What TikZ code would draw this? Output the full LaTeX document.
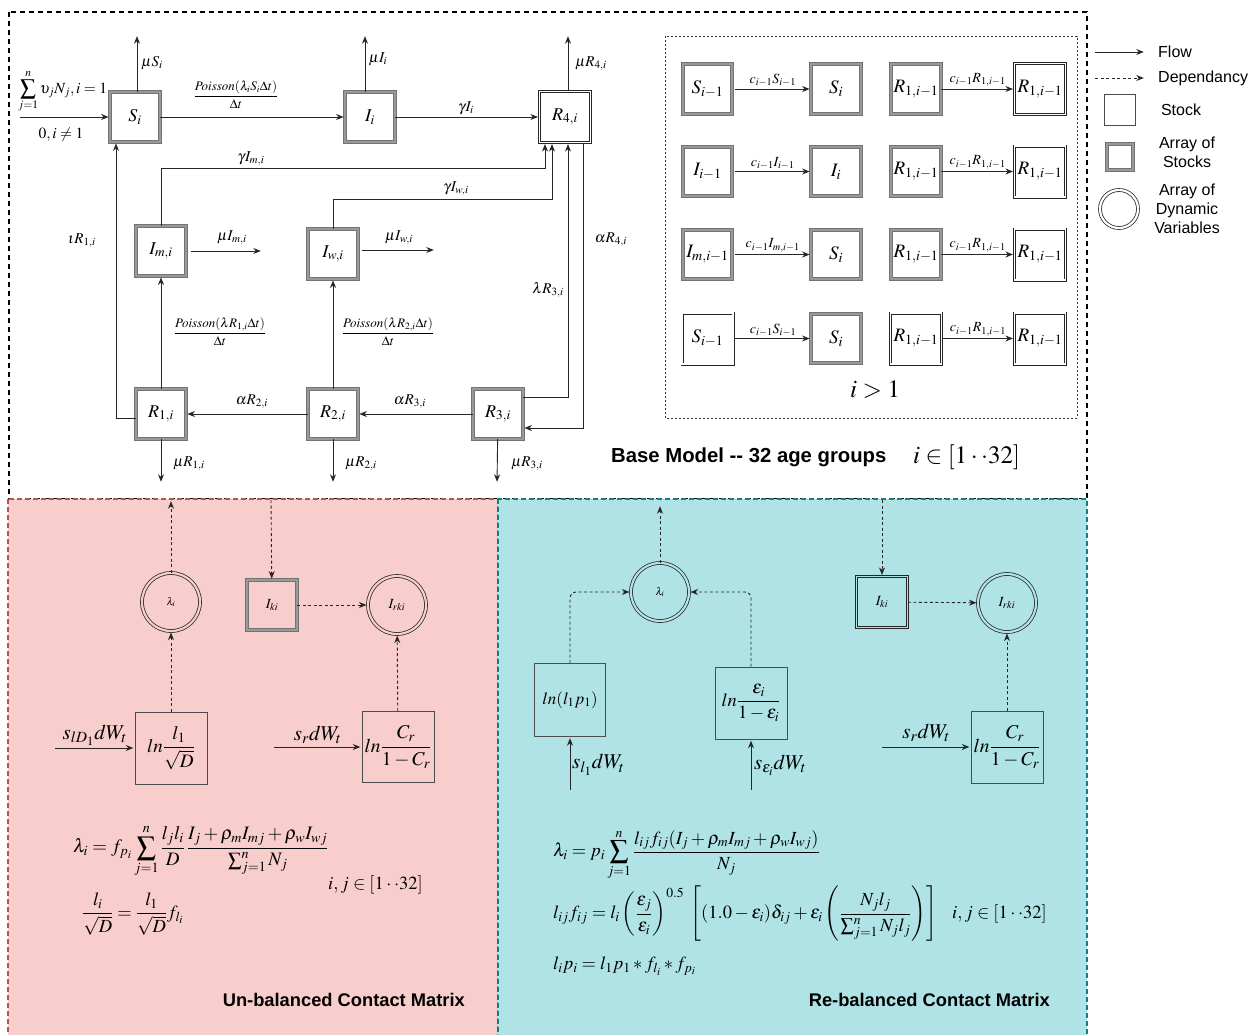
\documentclass[tikz,border=0pt]{standalone}
\usepackage{amsmath}
\usepackage{mathptmx}
\usepackage{fontspec}
\setmainfont{Liberation Serif}
\setsansfont{Liberation Sans}
\usetikzlibrary{arrows.meta}
\definecolor{pinkbg}{HTML}{F8CECC}
\definecolor{pinkbd}{HTML}{B85450}
\definecolor{cyanbg}{HTML}{B0E3E6}
\definecolor{cyanbd}{HTML}{0E8088}
\newcommand{\setfs}[1]{\fontsize{#1}{#1}\selectfont}
\begin{document}
\begin{tikzpicture}[x=1pt,y=-1pt,
 flow/.style={-{Stealth[length=7.5pt,width=6pt]}, line width=0.9pt, draw=black!85, shorten >=1.2pt},
 dep/.style={flow, dash pattern=on 3pt off 2.5pt},
 arrbox/.style={draw=black!55, line width=0.9pt, double=black!40, double distance=2.4pt, minimum size=49.5pt, inner sep=0pt, font=\setfs{18}},
 dblbox/.style={draw=black!85, line width=0.75pt, double=#1, double distance=1.5pt, minimum size=51pt, inner sep=0pt, font=\setfs{18}},
 dblbox/.default=white,
 stockbox/.style={draw=black!70, line width=1pt, minimum width=72pt, minimum height=72pt, inner sep=0pt, font=\setfs{19.5}},
 dynvar/.style={circle, draw=black!85, line width=0.75pt, double=#1, double distance=2.2pt, minimum size=58pt, inner sep=0pt},
 dynvar/.default=white,
 lab/.style={font=\setfs{15}, inner sep=1pt},
 plab/.style={font=\setfs{13}, inner sep=1pt},
 glab/.style={font=\setfs{14}, inner sep=2pt},
 gbox/.style={font=\setfs{19}},
 sflab/.style={font=\sffamily\setfs{16}, inner sep=0pt},
 title/.style={font=\sffamily\bfseries\setfs{20.3}, inner sep=0pt},
 ptitle/.style={font=\sffamily\bfseries\setfs{18.3}, inner sep=0pt},
 frm/.style={font=\setfs{18.5}, inner sep=0pt},
 dwl/.style={font=\setfs{21}},
]
\useasboundingbox (0,0) rectangle (1253,1034);
% outer boxes
\draw[line width=1.8pt, dash pattern=on 5pt off 4pt] (9,12) rectangle (1087,499);
\draw[line width=0.8pt, black!80, dash pattern=on 2pt off 2pt] (665,36) rectangle (1077,418);
\draw[pinkbd, fill=pinkbg, line width=1.3pt, dash pattern=on 5pt off 3pt] (8,499) rectangle (498,1040);
\draw[cyanbd, fill=cyanbg, line width=1.3pt, dash pattern=on 5pt off 3pt] (498,499) rectangle (1087,1040);

% ===== base model =====
\node[arrbox] (S) at (135,117) {$S_i$};
\node[arrbox] (I) at (370,117) {$I_i$};
\node[dblbox] (R4) at (565,117) {$R_{4,i}$};
\node[arrbox] (Im) at (161,251) {$I_{m,i}$};
\node[arrbox] (Iw) at (333,254) {$I_{w,i}$};
\node[arrbox] (R1) at (161,414) {$R_{1,i}$};
\node[arrbox] (R2) at (333,414) {$R_{2,i}$};
\node[arrbox] (R3) at (498,414) {$R_{3,i}$};

\coordinate (Sin) at (20,117);
\coordinate (Sout) at (137,35);
\coordinate (Iout) at (365,35);
\coordinate (Rout) at (568,35);
\coordinate (Imout) at (262,251);
\coordinate (Iwout) at (435,250);
\coordinate (R1o) at (161,483);
\coordinate (R2o) at (333,483);
\coordinate (R3o) at (497,483);
\coordinate (yIm) at (0,168);
\coordinate (yIw) at (0,199);

\draw[flow] (Sin) -- (S.west);
\draw[flow] (S.north -| Sout) -- (Sout);
\draw[flow] (S) -- (I);
\draw[flow] (I.north -| Iout) -- (Iout);
\draw[flow] (I) -- (R4);
\draw[flow] (R4.north -| Rout) -- (Rout);
\draw[flow] (Im.north) -- (Im.north |- yIm) -| ([xshift=-20pt]R4.south);
\draw[flow] (Iw.north) -- (Iw.north |- yIw) -| ([xshift=-13pt]R4.south);
\draw[flow] ([yshift=17pt]R3.east) -| ([xshift=3pt]R4.south);
\draw[flow] ([xshift=18pt]R4.south) |- ([yshift=-14pt]R3.east);
\draw[flow] ([yshift=-4pt]R1.west) -| ([xshift=-19pt]S.south);
\draw[flow] (R1) -- (Im);
\draw[flow] (R2) -- (Iw);
\draw[flow] ([xshift=5pt]Im.east) -- (Imout);
\draw[flow] ([xshift=4pt]Iw.east |- Iwout) -- (Iwout);
\draw[flow] (R2) -- (R1);
\draw[flow] (R3) -- (R2);
\draw[flow] (R1) -- (R1o);
\draw[flow] (R2) -- (R2o);
\draw[flow] (R3) -- (R3o);

\node[anchor=base west, font=\setfs{15.5}, inner sep=0pt] (lSin) at (18,93) {$\displaystyle\sum_{j=1}^{n}\upsilon_j N_j, i=1$};
\node[font=\setfs{15.5}, inner sep=0pt] (lSin2) at (61,135) {$0, i\neq 1$};
\node[lab] (lSout) at (152,63) {$\mu S_i$};
\node[plab] (lSI) at (236,95) {$\dfrac{Poisson(\lambda_i S_i\Delta t)}{\Delta t}$};
\node[lab] (lIout) at (378,59) {$\mu I_i$};
\node[lab] (lIR) at (466,108) {$\gamma I_i$};
\node[lab] (lRout) at (591,64) {$\mu R_{4,i}$};
\node[lab] (lImR) at (251,159) {$\gamma I_{m,i}$};
\node[lab] (lIwR) at (456,189) {$\gamma I_{w,i}$};
\node[lab] (lR1S) at (82,241) {$\iota R_{1,i}$};
\node[lab] (lR4R3) at (611,240) {$\alpha R_{4,i}$};
\node[lab] (lR3R4) at (548,290) {$\lambda R_{3,i}$};
\node[lab] (lImout) at (232,238) {$\mu I_{m,i}$};
\node[lab] (lIwout) at (399,238) {$\mu I_{w,i}$};
\node[plab] (lR1Im) at (220,332) {$\dfrac{Poisson(\lambda R_{1,i}\Delta t)}{\Delta t}$};
\node[plab] (lR2Iw) at (388,332) {$\dfrac{Poisson(\lambda R_{2,i}\Delta t)}{\Delta t}$};
\node[lab] (lR2R1) at (252,402) {$\alpha R_{2,i}$};
\node[lab] (lR3R2) at (410,402) {$\alpha R_{3,i}$};
\node[lab] (lR1o) at (189,464) {$\mu R_{1,i}$};
\node[lab] (lR2o) at (361,464) {$\mu R_{2,i}$};
\node[lab] (lR3o) at (527,464) {$\mu R_{3,i}$};

\node[title, anchor=west] (tBase) at (611,457) {Base Model {-}{-} 32 age groups};
\node[font=\setfs{25}, anchor=west, inner sep=0pt] (tBaseI) at (913,457) {$i\in[1\cdot\cdot 32]$};

% ===== i>1 grid =====
\node[arrbox, gbox] (a1) at (707.5,89) {$S_{i-1}$};
\node[arrbox, gbox] (b1) at (836,89) {$S_i$};
\node[arrbox, gbox] (c1) at (916,89) {$R_{1,i-1}$};
\node[dblbox, gbox] (d1) at (1040,89) {$R_{1,i-1}$};
\node[arrbox, gbox] (a2) at (707.5,171.5) {$I_{i-1}$};
\node[arrbox, gbox] (b2) at (836,171.5) {$I_i$};
\node[arrbox, gbox] (c2) at (916,171.5) {$R_{1,i-1}$};
\node[dblbox, gbox] (d2) at (1040,171.5) {$R_{1,i-1}$};
\node[arrbox, gbox] (a3) at (707.5,254.5) {$I_{m,i-1}$};
\node[arrbox, gbox] (b3) at (836,254.5) {$S_i$};
\node[arrbox, gbox] (c3) at (916,254.5) {$R_{1,i-1}$};
\node[dblbox, gbox] (d3) at (1040,254.5) {$R_{1,i-1}$};
\node[dblbox, gbox] (a4) at (707.5,338.5) {$S_{i-1}$};
\node[arrbox, gbox] (b4) at (836,338.5) {$S_i$};
\node[dblbox, gbox] (c4) at (916,338.5) {$R_{1,i-1}$};
\node[dblbox, gbox] (d4) at (1040,338.5) {$R_{1,i-1}$};
\draw[flow] ([xshift=2pt]a1.east) -- node[above, glab] {$c_{i-1}S_{i-1}$} (b1.west);
\draw[flow] ([xshift=2pt]a2.east) -- node[above, glab] {$c_{i-1}I_{i-1}$} (b2.west);
\draw[flow] ([xshift=2pt]a3.east) -- node[above, glab] {$c_{i-1}I_{m,i-1}$} (b3.west);
\draw[flow] ([xshift=2pt]a4.east) -- node[above, glab] {$c_{i-1}S_{i-1}$} (b4.west);
\draw[flow] (c1.east) -- node[above, glab] {$c_{i-1}R_{1,i-1}$} (d1.west);
\draw[flow] (c2.east) -- node[above, glab] {$c_{i-1}R_{1,i-1}$} (d2.west);
\draw[flow] (c3.east) -- node[above, glab] {$c_{i-1}R_{1,i-1}$} (d3.west);
\draw[flow] (c4.east) -- node[above, glab] {$c_{i-1}R_{1,i-1}$} (d4.west);
\node[font=\setfs{25}] (tGrid) at (875,390) {$i>1$};

% ===== legend =====
\coordinate (lgF1) at (1095,52);
\coordinate (lgF2) at (1145,52);
\coordinate (lgD1) at (1095,78);
\coordinate (lgD2) at (1145,78);
\draw[flow] (lgF1) -- (lgF2);
\draw[dep] (lgD1) -- (lgD2);
\node[sflab, anchor=west] (lgFt) at (1158,52) {Flow};
\node[sflab, anchor=west] (lgDt) at (1158,78) {Dependancy};
\node[draw=black!70, line width=1pt, minimum size=31pt, inner sep=0pt] (lgS) at (1120,110) {};
\node[sflab] (lgSt) at (1181,110) {Stock};
\node[arrbox, minimum size=26pt] (lgA) at (1120,157) {};
\node[sflab, align=center, font=\sffamily\fontsize{16}{19}\selectfont] (lgAt) at (1187,152.5) {Array of\\Stocks};
\node[dynvar, minimum size=38pt] (lgDv) at (1119,209) {};
\node[sflab, align=center, font=\sffamily\fontsize{16}{19}\selectfont] (lgDvt) at (1187,209) {Array of\\Dynamic\\Variables};

% ===== un-balanced panel =====
\node[dynvar=pinkbg, font=\setfs{11}] (lamA) at (171,602) {$\lambda_i$};
\node[arrbox, font=\setfs{14}] (IkA) at (272,605) {$I_{ki}$};
\node[dynvar=pinkbg, font=\setfs{14}] (IrA) at (397,605) {$I_{rki}$};
\node[stockbox, font=\setfs{19}] (lnA) at (171,748) {$ln\dfrac{l_1}{\sqrt{D}}$};
\node[stockbox, minimum height=71pt] (lnCA) at (398,747) {$ln\dfrac{C_r}{1-C_r}$};
\coordinate (lamAtop) at (171,500);
\coordinate (IkAtop) at (271,500);
\coordinate (inA) at (55,748);
\coordinate (inCA) at (274,747);
\draw[dep] (lamA) -- (lamAtop);
\draw[dep] (IkAtop) -- (IkA);
\draw[dep] (IkA) -- (IrA);
\draw[dep] (lnA) -- (lamA);
\draw[dep] (lnCA) -- (IrA);
\draw[flow] (inA) -- node[above, dwl, inner sep=2pt] (lsA) {$s_{lD_1}dW_t$} (lnA.west);
\draw[flow] (inCA) -- node[above, dwl, inner sep=3pt] (lsCA) {$s_r dW_t$} (lnCA.west);
\node[frm, anchor=west, font=\setfs{19}] (fA1) at (73,851) {$\displaystyle \lambda_i = f_{p_i}\sum_{j=1}^{n}\frac{l_jl_i}{D}\,\frac{I_j+\rho_m I_{mj}+\rho_w I_{wj}}{\sum_{j=1}^{n}N_j}$};
\node[frm, anchor=west] (fA2) at (328,885) {$i,j\in[1\cdot\cdot 32]$};
\node[frm, anchor=west] (fA3) at (82,914) {$\displaystyle \frac{l_i}{\sqrt{D}} = \frac{l_1}{\sqrt{D}}f_{l_i}$};
\node[ptitle, anchor=east] (tA) at (465,1000) {Un-balanced Contact Matrix};

% ===== re-balanced panel =====
\node[dynvar=cyanbg, font=\setfs{11}] (lamB) at (660,592) {$\lambda_i$};
\node[stockbox, minimum width=71pt, minimum height=73pt, font=\setfs{17}] (lnlp) at (570,700) {$ln(l_1p_1)$};
\node[stockbox, font=\setfs{18.5}] (lneps) at (751,703) {$ln\dfrac{\epsilon_i}{1-\epsilon_i}$};
\node[dblbox=cyanbg, font=\setfs{14}] (IkB) at (882,602) {$I_{ki}$};
\node[dynvar=cyanbg, font=\setfs{14}] (IrB) at (1007,603) {$I_{rki}$};
\node[stockbox] (lnCB) at (1007,747) {$ln\dfrac{C_r}{1-C_r}$};
\coordinate (lamBtop) at (660,505);
\coordinate (IkBtop) at (882,500);
\coordinate (inlp) at (570,790);
\coordinate (ineps) at (751,790);
\coordinate (inCB) at (882,747);
\draw[dep] (lamB) -- (lamBtop);
\draw[dep, rounded corners=6pt] (lnlp.north) |- (lamB.west);
\draw[dep, rounded corners=6pt] (lneps.north) |- (lamB.east);
\draw[dep] (IkBtop) -- (IkB);
\draw[dep] (IkB) -- (IrB);
\draw[dep] (lnCB) -- (IrB);
\draw[flow] (inlp) -- (lnlp.south);
\draw[flow] (ineps) -- (lneps.south);
\draw[flow] (inCB) -- node[above, dwl, inner sep=5pt] (lsCB) {$s_r dW_t$} (lnCB.west);
\node[dwl, anchor=west, inner sep=0pt] (lslp) at (572,765) {$s_{l_1}dW_t$};
\node[dwl, anchor=west, inner sep=0pt] (lseps) at (754,765) {$s_{\epsilon_i}dW_t$};
\node[frm, anchor=west] (fB1) at (553,855) {$\displaystyle \lambda_i = p_i\sum_{j=1}^{n}\frac{l_{ij}f_{ij}(I_j+\rho_m I_{mj}+\rho_w I_{wj})}{N_j}$};
\node[frm, anchor=west] (fB2) at (553,914) {$\displaystyle l_{ij}f_{ij} = l_i\left(\frac{\epsilon_j}{\epsilon_i}\right)^{0.5}\;\left[(1.0-\epsilon_i)\delta_{ij}+\epsilon_i\left(\frac{N_jl_j}{\sum_{j=1}^{n}N_jl_j}\right)\right]$};
\node[frm, anchor=west] (fB3) at (952,914) {$i,j\in[1\cdot\cdot 32]$};
\node[frm, anchor=west] (fB4) at (553,966) {$l_ip_i = l_1p_1 * f_{l_i} * f_{p_i}$};
\node[ptitle, anchor=east] (tB) at (1050,1000) {Re-balanced Contact Matrix};
\end{tikzpicture}
\end{document}
